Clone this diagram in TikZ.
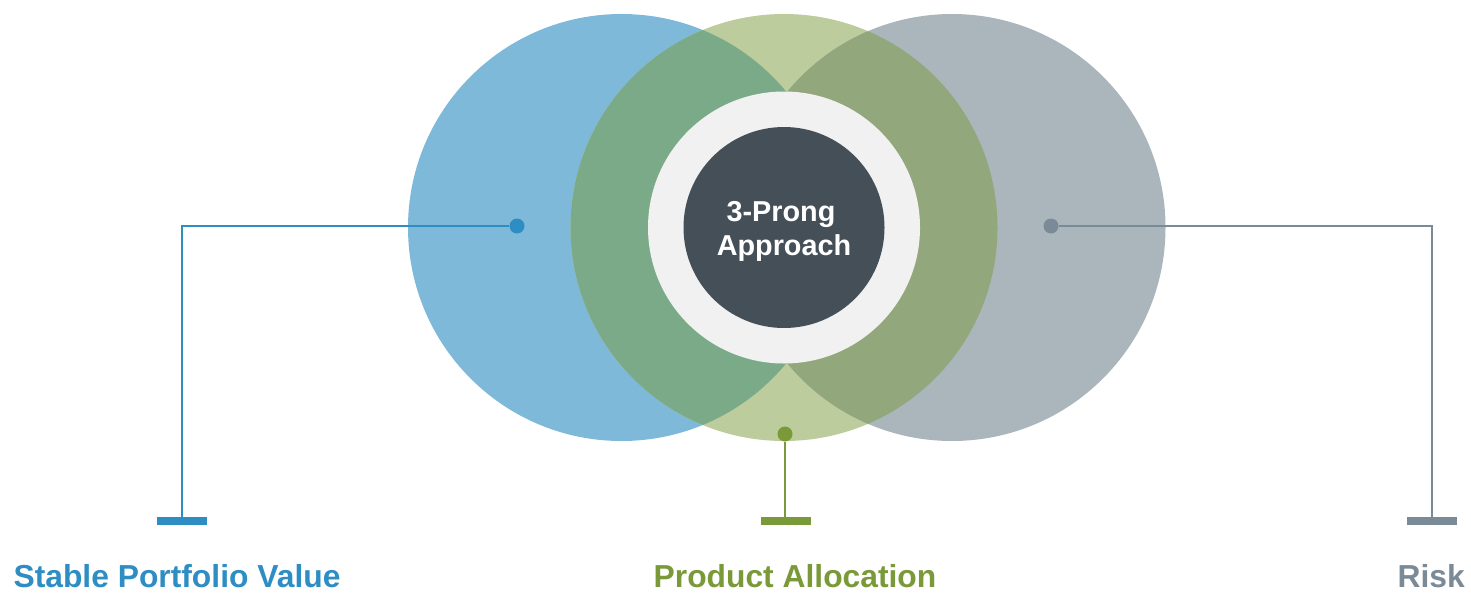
\documentclass[tikz,border=0pt]{standalone}
\usepackage{fontspec}
\setmainfont{Liberation Sans}
\definecolor{cblue}{HTML}{7FB9D9}
\definecolor{cgreen}{HTML}{BDCC9D}
\definecolor{cgray}{HTML}{ABB6BC}
\definecolor{cbg}{HTML}{7BAA89}
\definecolor{cgg}{HTML}{93A77C}
\definecolor{ring}{HTML}{F1F1F1}
\definecolor{core}{HTML}{444F58}
\definecolor{lblue}{HTML}{2E8EC4}
\definecolor{lgreen}{HTML}{7A9A3A}
\definecolor{lgray}{HTML}{7A8A96}
\begin{document}
\begin{tikzpicture}[x=1pt,y=-1pt,
  dotnode/.style={circle,fill=#1,inner sep=0pt,minimum size=15pt},
  barnode/.style={rectangle,fill=#1,inner sep=0pt,minimum width=50pt,minimum height=8pt},
  conn/.style={draw=#1,line width=2pt},
  lbl/.style={text=#1,font=\bfseries\fontsize{31.8}{36}\selectfont,inner sep=0pt,anchor=base}]
\useasboundingbox[fill=white] (0,0) rectangle (1471,592);
% circles
\fill[cblue] (621.5,227.5) circle (213.5);
\fill[cgreen] (784,227.5) circle (213.5);
\fill[cgray] (952,227.5) circle (213.5);
\begin{scope}
  \clip (621.5,227.5) circle (213.5);
  \fill[cbg] (784,227.5) circle (213.5);
\end{scope}
\begin{scope}
  \clip (952,227.5) circle (213.5);
  \fill[cgg] (784,227.5) circle (213.5);
\end{scope}
\fill[ring] (784,227.5) circle (136);
\node[circle,fill=core,minimum size=201pt,inner sep=0pt] (core) at (784,227.5) {};
\node[text=white,font=\bfseries\fontsize{28.8}{34}\selectfont,anchor=base,inner sep=0pt] (t1) at (781,221) {3-Prong};
\node[text=white,font=\bfseries\fontsize{28.8}{34}\selectfont,anchor=base,inner sep=0pt] (t2) at (784,255) {Approach};
% dots and bars
\node[dotnode=lblue] (bdot) at (517,226) {};
\node[dotnode=lgreen] (gdot) at (785,434) {};
\node[dotnode=lgray] (rdot) at (1051,226) {};
\node[barnode=lblue] (bbar) at (182,521) {};
\node[barnode=lgreen] (gbar) at (786,521) {};
\node[barnode=lgray] (rbar) at (1432,521) {};
\draw[conn=lblue] (bdot) -| (bbar);
\draw[conn=lgreen] (gdot) -- (gdot|-gbar.north);
\draw[conn=lgray] (rdot) -| (rbar);
% labels
\node[lbl=lblue] (blab) at (177,587) {Stable Portfolio Value};
\node[lbl=lgreen] (glab) at (795,587) {Product Allocation};
\node[lbl=lgray,anchor=base east] (rlab) at (1465,587) {Risk};
\end{tikzpicture}
\end{document}
